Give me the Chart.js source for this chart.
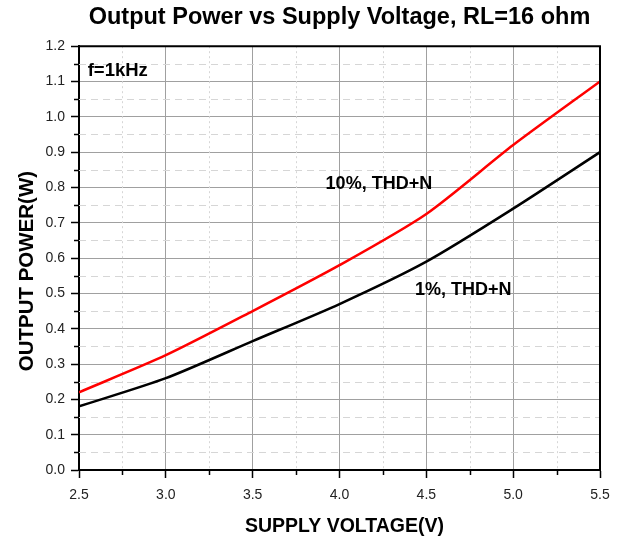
<!DOCTYPE html>
<html>
<head>
<meta charset="utf-8">
<script src="https://cdn.jsdelivr.net/npm/chart.js@4/dist/chart.umd.min.js"></script>
<style>
  html, body { margin: 0; padding: 0; background: #fff; }
  #wrap { width: 629px; height: 542px; }
</style>
</head>
<body>
<div id="wrap"><canvas id="c" width="629" height="542"></canvas></div>
<script>
// ---- data ----
const voltages = [2.5, 3.0, 3.5, 4.0, 4.5, 5.0, 5.5];
const power10 = [0.22, 0.325, 0.45, 0.58, 0.725, 0.92, 1.10];   // 10%, THD+N
const power1  = [0.18, 0.26, 0.365, 0.47, 0.59, 0.74, 0.90];    // 1%, THD+N
const yTicks = [0.0, 0.1, 0.2, 0.3, 0.4, 0.5, 0.6, 0.7, 0.8, 0.9, 1.0, 1.1, 1.2];
const xTicks = [2.5, 3.0, 3.5, 4.0, 4.5, 5.0, 5.5];
const yMinor = [0.05, 0.15, 0.25, 0.35, 0.45, 0.55, 0.65, 0.75, 0.85, 0.95, 1.05, 1.15];
const xMinor = [2.75, 3.25, 3.75, 4.25, 4.75, 5.25];
const titleText = 'Output Power vs Supply Voltage, RL=16 ohm';
const xTitle = 'SUPPLY VOLTAGE(V)';
const yTitle = 'OUTPUT POWER(W)';
const notes = [
  { text: 'f=1kHz', x: 2.55, y: 1.13, size: 18.5 },
  { text: '10%, THD+N', x: 3.92, y: 0.81, size: 18 },
  { text: '1%, THD+N', x: 4.435, y: 0.51, size: 18 }
];

const FONT = "'Liberation Sans', Arial, sans-serif";

const extras = {
  id: 'extras',
  beforeDatasetsDraw(chart) {
    const { ctx, chartArea: a, scales: { x, y } } = chart;
    ctx.save();
    ctx.lineWidth = 1;
    ctx.strokeStyle = '#d6d6d6';
    ctx.setLineDash([7, 5]);
    yMinor.forEach(v => {
      const py = Math.round(y.getPixelForValue(v)) + 0.5;
      ctx.beginPath(); ctx.moveTo(a.left, py); ctx.lineTo(a.right, py); ctx.stroke();
    });
    ctx.setLineDash([2, 3]);
    xMinor.forEach(v => {
      const px = Math.round(x.getPixelForValue(v)) + 0.5;
      ctx.beginPath(); ctx.moveTo(px, a.top); ctx.lineTo(px, a.bottom); ctx.stroke();
    });
    ctx.restore();
  },
  afterDraw(chart) {
    const { ctx, chartArea: a, scales: { x, y } } = chart;
    ctx.save();
    // minor ticks
    ctx.strokeStyle = '#000';
    ctx.lineWidth = 1.5;
    yMinor.forEach(v => {
      const py = Math.round(y.getPixelForValue(v)) + 0.5;
      ctx.beginPath(); ctx.moveTo(a.left - 5, py); ctx.lineTo(a.left, py); ctx.stroke();
    });
    xMinor.forEach(v => {
      const px = Math.round(x.getPixelForValue(v)) + 0.5;
      ctx.beginPath(); ctx.moveTo(px, a.bottom); ctx.lineTo(px, a.bottom + 5); ctx.stroke();
    });
    // frame top/right
    ctx.lineWidth = 2;
    ctx.beginPath();
    ctx.moveTo(a.left, a.top); ctx.lineTo(a.right, a.top); ctx.lineTo(a.right, a.bottom);
    ctx.stroke();
    // annotations
    ctx.fillStyle = '#000';
    ctx.textAlign = 'left';
    ctx.textBaseline = 'middle';
    notes.forEach(n => {
      ctx.font = 'bold ' + n.size + 'px ' + FONT;
      ctx.fillText(n.text, x.getPixelForValue(n.x), y.getPixelForValue(n.y));
    });
    // axis titles
    ctx.font = 'bold 19.5px ' + FONT;
    ctx.textAlign = 'center';
    ctx.fillText(xTitle, (a.left + a.right) / 2 + 5, 527);
    ctx.font = 'bold 20.5px ' + FONT;
    ctx.translate(27.5, (a.top + a.bottom) / 2 + 13);
    ctx.rotate(-Math.PI / 2);
    ctx.fillText(yTitle, 0, 0);
    ctx.restore();
  }
};

new Chart(document.getElementById('c'), {
  type: 'line',
  data: {
    datasets: [
      {
        label: '10%, THD+N',
        data: voltages.map((v, i) => ({ x: v, y: power10[i] })),
        borderColor: '#ff0000',
        borderWidth: 2.5,
        pointRadius: 0,
        tension: 0.25,
        fill: false
      },
      {
        label: '1%, THD+N',
        data: voltages.map((v, i) => ({ x: v, y: power1[i] })),
        borderColor: '#000000',
        borderWidth: 2.5,
        pointRadius: 0,
        tension: 0.25,
        fill: false
      }
    ]
  },
  options: {
    responsive: false,
    animation: false,
    devicePixelRatio: 1,
    layout: { padding: { left: 0, right: 29, top: 0, bottom: 0 } },
    plugins: {
      legend: { display: false },
      tooltip: { enabled: false },
      title: {
        display: true,
        text: titleText,
        fullSize: false,
        color: '#000',
        font: { family: FONT, size: 23.5, weight: 'bold', lineHeight: 1.2 },
        padding: { top: 3, bottom: 15 }
      }
    },
    scales: {
      x: {
        type: 'linear',
        min: 2.5,
        max: 5.5,
        afterBuildTicks: s => { s.ticks = xTicks.map(v => ({ value: v })); },
        afterFit: s => { s.height = 72; },
        ticks: {
          callback: v => v.toFixed(1),
          color: '#222',
          font: { family: FONT, size: 14 },
          padding: 9,
          maxRotation: 0
        },
        grid: { color: '#a0a0a0', lineWidth: 1, tickColor: '#000', tickLength: 8, tickWidth: 1.5 },
        border: { display: true, color: '#000', width: 2 }
      },
      y: {
        min: 0,
        max: 1.2,
        afterBuildTicks: s => { s.ticks = yTicks.map(v => ({ value: v })); },
        afterFit: s => { s.width = 79; },
        ticks: {
          callback: v => v.toFixed(1),
          color: '#222',
          font: { family: FONT, size: 14 },
          padding: 6
        },
        grid: { color: '#a0a0a0', lineWidth: 1, tickColor: '#000', tickLength: 8, tickWidth: 1.5 },
        border: { display: true, color: '#000', width: 2 }
      }
    }
  },
  plugins: [extras]
});
</script>
</body>
</html>
